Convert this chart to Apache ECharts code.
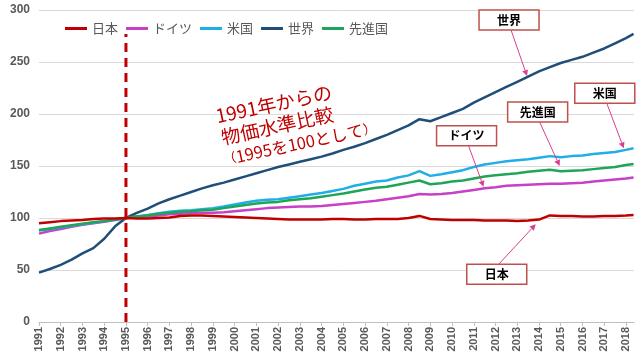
<!DOCTYPE html>
<html><head><meta charset="utf-8">
<script src="https://cdn.jsdelivr.net/npm/echarts@6/dist/echarts.min.js"></script>
<style>html,body{margin:0;padding:0;background:#fff}#c{width:640px;height:361px}</style>
</head><body><div id="c"></div>
<script>
// time points (decimal years)
var times = [1991.0,1991.5,1992.0,1992.5,1993.0,1993.5,1994.0,1994.5,1995.0,1995.5,1996.0,1996.5,1997.0,1997.5,1998.0,1998.5,1999.0,1999.5,2000.0,2000.5,2001.0,2001.5,2002.0,2002.5,2003.0,2003.5,2004.0,2004.5,2005.0,2005.5,2006.0,2006.5,2007.0,2007.5,2008.0,2008.5,2009.0,2009.5,2010.0,2010.5,2011.0,2011.5,2012.0,2012.5,2013.0,2013.5,2014.0,2014.5,2015.0,2015.5,2016.0,2016.5,2017.0,2017.5,2018.0,2018.35];
var japan = [95,96,97,97.5,98,99,99.5,99.5,100,99.5,99.5,100,100.5,102,102.5,102.5,102,101.5,101,100.5,100,99.5,99,98.5,98.5,98.5,98.5,99,99,98.5,98.5,99,99,99,100,102,99,98.5,98,98,98,97.5,97.5,97.5,97,97.5,98.5,102.5,102,102,101.5,101.5,102,102,102.5,103];
var germany = [85,87.5,89.5,91.5,93.5,95,96.5,98,100,101,101.5,102.5,103.5,104,104.5,105,105,105.5,106.5,107.5,108.5,109.5,110,110.5,111,111,111.5,112.5,113.5,114.5,115.5,116.5,118,119.5,121,123,122.5,123,124,125.5,127,128.5,129.5,131,131.5,132,132.5,133,133,133.5,134,135,136,137,138,139];
var usa = [88,89.5,91,92.5,94,95.5,97,98.5,100,101.5,103,104.5,106,107,107.5,108.5,109.5,111,113,115,116.5,117.5,118,119.5,121,122.5,124,126,128,131,133,135,136,139,141,145,140.5,142,144,146,149,151.5,153,154.5,155.5,156.5,158,159.5,158.5,159.5,160,161.5,162.5,163.5,165.5,167];
var world = [47.5,51,55,60,66,71,80,92,100,105,109,114,118,121.5,125,128.5,131.5,134,137,140,143,146,149,151.5,154,156.5,159,162,165.5,168.5,172,176,180,184.5,189,195,193,197,201,205,211,216,221,226,231,236,241,245,249,252,255,259,263,268,273,277];
var advanced = [88.5,90,91.5,93,94.5,96,97,98.5,100,101.5,102.5,104,105,106,106.5,107.5,108,109.5,111,112.5,114,115,115.5,117,118,119,120.5,122,123.5,125.5,127.5,129,130,132,134,136,132.5,133.5,135,136,138,140,141,142,143,144.5,145.5,146.5,145,145.5,146,147,148,149,151,152];
var seriesNames = ['日本','ドイツ','米国','世界','先進国'];
var yearTicks = [];
for (var y = 1991; y <= 2018; y++) yearTicks.push(y);
var baseYear = [1995, 1995];
var baseLineY = [0, 277];
var annoLines = ['1991年からの', '物価水準比較', '1995を100として'];
// callouts: label, arrow tip [year, value]
var callouts = [
  {label:'世界', tip:[2013.45, 236.5], off:[-48,-66]},
  {label:'米国', tip:[2017.9, 167], off:[-49,-65]},
  {label:'先進国', tip:[2014.95, 150], off:[-52,-64]},
  {label:'ドイツ', tip:[2011.45, 130], off:[-47,-61]},
  {label:'日本', tip:[2013.85, 94], off:[-69,40]}
];

var colors = ['#C00000','#C83FC8','#1FAEE6','#1F4E79','#1FA557'];
var vals = [japan, germany, usa, world, advanced];
function pairs(arr){ return arr.map(function(v,i){ return [times[i], v]; }); }

var chart = echarts.init(document.getElementById('c'));
var series = seriesNames.map(function(n,i){
  return {name:n, type:'line', data:pairs(vals[i]), showSymbol:false, symbol:'none',
    lineStyle:{width:2.5, color:colors[i]}, itemStyle:{color:colors[i]}, z: 3 + (i===0?1:0)};
});
series.push({name:'base', type:'line', data:[[baseYear[0],baseLineY[0]],[baseYear[1],baseLineY[1]]],
  showSymbol:false, symbol:'none', lineStyle:{width:3, color:'#C00000', type:[9,6]}, z:10, silent:true});

chart.setOption({
  animation:false,
  textStyle:{fontFamily:'Liberation Sans, Arial, sans-serif'},
  grid:{left:39, right:6, top:10, bottom:39},
  legend:{data:seriesNames, top:17, left:60, icon:'rect', itemWidth:22, itemHeight:3, itemGap:8,
    textStyle:{color:'#595959', fontSize:13, fontFamily:'Noto Sans CJK JP'}},
  xAxis:{type:'value', min:1991, max:2018.37, interval:1,
    axisLine:{lineStyle:{color:'#BFBFBF', width:1}},
    axisTick:{show:true, length:4, lineStyle:{color:'#BFBFBF'}, customValues:yearTicks},
    axisLabel:{rotate:90, fontWeight:'bold', color:'#595959', fontSize:11, margin:5, customValues:yearTicks,
      formatter:function(v){ return String(Math.round(v)); }},
    splitLine:{show:false}},
  yAxis:{type:'value', min:0, max:300, interval:50,
    axisLine:{show:false}, axisTick:{show:false},
    axisLabel:{fontWeight:'bold', color:'#595959', fontSize:12, margin:9},
    splitLine:{lineStyle:{color:'#D9D9D9', width:1}}},
  series:series
});

var g = [];
var red = '#C00000', jp = 'Noto Sans CJK JP';
g.push({type:'group', x:214, y:107, rotation:0.21, z:20, children:[
  {type:'text', x:0, y:0, z:20, style:{text:annoLines[0], fill:red, fontSize:19, fontFamily:jp, verticalAlign:'top'}},
  {type:'text', x:1, y:22, z:20, style:{text:annoLines[1], fill:red, fontSize:19, fontFamily:jp, verticalAlign:'top'}},
  {type:'text', x:-2, y:45, z:20, style:{text:'{p|（}{t|' + annoLines[2] + '}{p|）}', fill:red, fontFamily:jp, verticalAlign:'top',
    rich:{p:{fontSize:13, fill:red, fontFamily:jp}, t:{fontSize:16.5, fill:red, fontFamily:jp}}}}
]});
callouts.forEach(function(c){
  var p = chart.convertToPixel({xAxisIndex:0, yAxisIndex:0}, c.tip);
  var bx = p[0] + c.off[0], by = p[1] + c.off[1], bw = 60, bh = 20;
  var sx = bx + bw/2 + 2, sy = c.off[1] < 0 ? by + bh : by;
  var ang = Math.atan2(p[1]-sy, p[0]-sx);
  var ah = 6, aw = 3;
  g.push({type:'line', z:20, shape:{x1:sx, y1:sy, x2:p[0]-Math.cos(ang)*ah, y2:p[1]-Math.sin(ang)*ah},
    style:{stroke:'#D9408F', lineWidth:1}});
  g.push({type:'polygon', z:20, shape:{points:[[p[0],p[1]],
    [p[0]-Math.cos(ang)*ah - Math.sin(ang)*aw, p[1]-Math.sin(ang)*ah + Math.cos(ang)*aw],
    [p[0]-Math.cos(ang)*ah + Math.sin(ang)*aw, p[1]-Math.sin(ang)*ah - Math.cos(ang)*aw]]},
    style:{fill:'#D9408F'}});
  g.push({type:'rect', z:21, shape:{x:bx, y:by, width:bw, height:bh}, style:{fill:'#fff', stroke:'#C0504D', lineWidth:1.5}});
  g.push({type:'text', z:22, x:bx+bw/2, y:by+bh/2, style:{text:c.label, fill:'#000', fontSize:12, fontWeight:'bold',
    fontFamily:jp, align:'center', verticalAlign:'middle'}});
});
chart.setOption({graphic:g});
</script></body></html>
